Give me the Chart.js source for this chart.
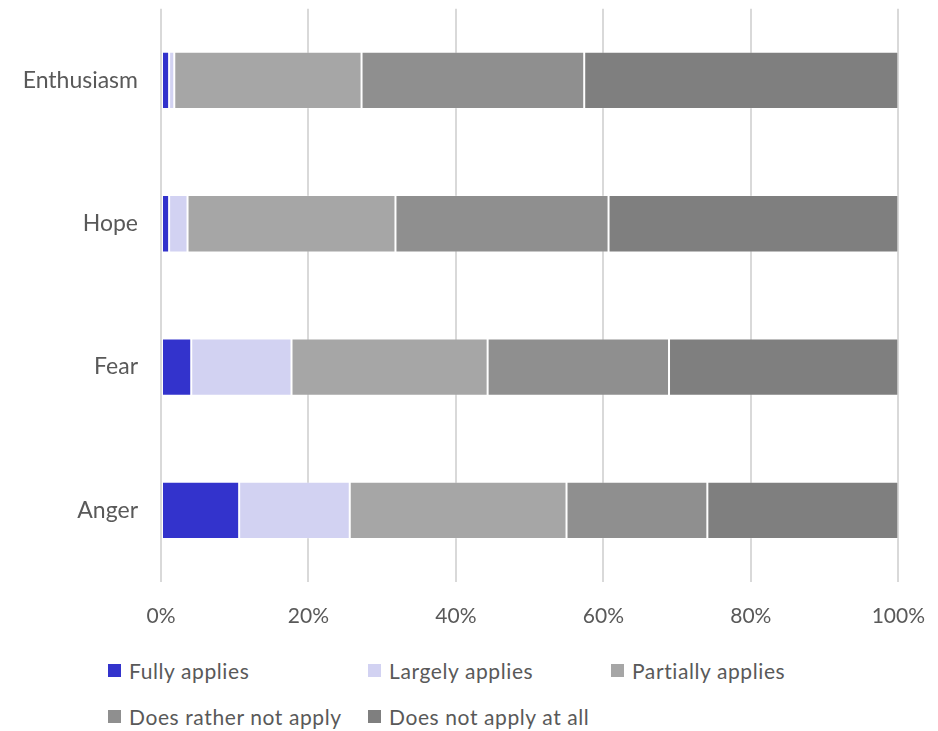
<!DOCTYPE html>
<html>
<head>
<meta charset="utf-8">
<script src="https://cdn.jsdelivr.net/npm/chart.js@4.4.1/dist/chart.umd.min.js"></script>
<style>
    body { margin: 0; background: #fff; overflow: hidden; }
    #wrap { position: relative; width: 938px; height: 731px; overflow: hidden; }
    #chart-box { position: absolute; left: 0; top: -20px; width: 947px; height: 670px; }
    #legend { position: absolute; left: 0; top: 650px; width: 938px; height: 81px; font-family: Lato, "Open Sans", sans-serif; font-size: 21px; letter-spacing: 0.6px; color: #595959; }
    .item { position: absolute; display: flex; align-items: center; white-space: nowrap; }
    .swatch { width: 13px; height: 13px; margin-right: 8px; }
</style>
</head>
<body>
<div id="wrap">
    <div id="chart-box"><canvas id="emotion-canvas"></canvas></div>
    <div id="legend"></div>
</div>
<script>
const categories = ["Enthusiasm", "Hope", "Fear", "Anger"];
const seriesNames = ["Fully applies", "Largely applies", "Partially applies", "Does rather not apply", "Does not apply at all"];
const fullyApplies = [1.1, 1.1, 4.1, 10.6];
const largelyApplies = [0.7, 2.5, 13.6, 15.0];
const partiallyApplies = [25.4, 28.2, 26.6, 29.4];
const ratherNotApply = [30.2, 28.9, 24.6, 19.1];
const notApplyAtAll = [42.6, 39.3, 31.1, 25.9];
const xTicks = [0, 20, 40, 60, 80, 100];

const seriesColors = ["#3333CC", "#D2D2F2", "#A6A6A6", "#8F8F8F", "#7F7F7F"];
const seriesValues = [fullyApplies, largelyApplies, partiallyApplies, ratherNotApply, notApplyAtAll];

const fontFamily = 'Lato, "Open Sans", sans-serif';

const datasets = seriesNames.map((name, i) => ({
    label: name,
    data: seriesValues[i],
    backgroundColor: seriesColors[i],
    borderColor: 'rgba(255,255,255,0.18)',
    borderWidth: 1,
    borderSkipped: false,
    categoryPercentage: 0.4,
    barPercentage: 1.0,
}));

const canvas = document.querySelector("#emotion-canvas");

new Chart(canvas, {
    type: 'bar',
    data: { labels: categories, datasets: datasets },
    options: {
        indexAxis: 'y',
        responsive: true,
        maintainAspectRatio: false,
        animation: false,
        layout: { padding: { top: 10, right: 28, left: 0, bottom: 0 } },
        plugins: {
            legend: { display: false },
            tooltip: { enabled: false },
        },
        scales: {
            x: {
                stacked: true,
                min: 0,
                max: 100,
                afterBuildTicks: (scale) => {
                    scale.ticks = xTicks.map(v => ({ value: v }));
                },
                afterFit: (scale) => { scale.height = 68; },
                grid: { color: '#D9D9D9', lineWidth: 2, drawTicks: false },
                border: { display: false },
                ticks: {
                    padding: 22,
                    color: '#595959',
                    font: { family: fontFamily, size: 21 },
                    callback: (v) => v + '%',
                },
            },
            y: {
                stacked: true,
                afterFit: (scale) => { scale.width = 161; },
                grid: { display: false },
                border: { display: false },
                ticks: {
                    padding: 15,
                    color: '#595959',
                    font: { family: fontFamily, size: 23 },
                },
            },
        },
    },
});

// legend laid out like the original, two rows
const legendSpots = [[108, 21], [368, 21], [611, 21], [108, 67], [368, 67]];
const legendBox = document.querySelector("#legend");
seriesNames.forEach((name, i) => {
    const item = document.createElement("div");
    item.className = "item";
    item.style.left = legendSpots[i][0] + "px";
    item.style.top = (legendSpots[i][1] - 13) + "px";
    item.innerHTML = '<span class="swatch" style="background:' + seriesColors[i] + '"></span>' + name;
    legendBox.appendChild(item);
});
</script>
</body>
</html>
